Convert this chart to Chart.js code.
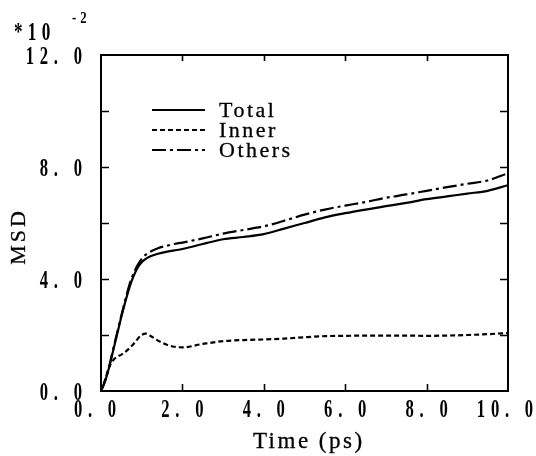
<!DOCTYPE html>
<html>
<head>
<meta charset="utf-8">
<script src="https://cdn.jsdelivr.net/npm/chart.js@4/dist/chart.umd.min.js"></script>
<style>
  html, body { margin: 0; padding: 0; background: #ffffff; }
  #wrap { width: 536px; height: 456px; }
</style>
</head>
<body>
<div id="wrap"><canvas id="msdChart" width="536" height="456"></canvas></div>
<script>
// Time axis (ps)
const timePs = [0, 0.1, 0.2, 0.3, 0.4, 0.5, 0.6, 0.7, 0.8, 0.9, 1.0, 1.1, 1.2, 1.4, 1.6, 1.8,
                2.0, 2.5, 3.0, 3.5, 4.0, 4.5, 5.0, 5.5, 6.0, 6.5, 7.0, 7.5, 8.0, 8.5, 9.0, 9.5, 10.0];
// Mean square displacement, in units of 10^-2
const msdTotal  = [0, 0.35, 0.85, 1.45, 2.05, 2.65, 3.2, 3.7, 4.1, 4.4, 4.6, 4.72, 4.8, 4.9, 4.97, 5.02,
                   5.07, 5.25, 5.42, 5.5, 5.6, 5.8, 6.0, 6.2, 6.35, 6.48, 6.6, 6.72, 6.85, 6.95, 7.05, 7.15, 7.35];
const msdInner  = [0, 0.4, 0.85, 1.1, 1.22, 1.3, 1.4, 1.53, 1.68, 1.86, 2.0, 2.05, 1.98, 1.8, 1.66, 1.58,
                   1.56, 1.68, 1.78, 1.82, 1.84, 1.87, 1.92, 1.96, 1.97, 1.98, 1.98, 1.98, 1.97, 1.98, 2.0, 2.03, 2.07];
const msdOthers = [0, 0.35, 0.87, 1.5, 2.1, 2.7, 3.27, 3.8, 4.2, 4.5, 4.72, 4.87, 4.97, 5.1, 5.18, 5.25,
                   5.3, 5.45, 5.62, 5.75, 5.88, 6.08, 6.3, 6.48, 6.62, 6.75, 6.9, 7.02, 7.15, 7.28, 7.4, 7.52, 7.78];

const seriesNames = ['Total', 'Inner', 'Others'];
const xTickValues = [0, 2, 4, 6, 8, 10];
const xTickLabels = ['0. 0', '2. 0', '4. 0', '6. 0', '8. 0', '10. 0'];
const yTickValues = [0, 4, 8, 12];
const yTickLabels = ['0. 0', '4. 0', '8. 0', '12. 0'];
const yMarkValues = [2, 4, 6, 8, 10];
const xMarkValues = [2, 4, 6, 8];
const axisTitleX = 'Time (ps)';
const axisTitleY = 'MSD';
const scaleNote = '*10';
const scaleExp = '-2';

const toPoints = (ys) => timePs.map((t, i) => ({ x: t, y: ys[i] }));

const SERIF = '"Liberation Serif", "DejaVu Serif", serif';

// Draw text squeezed horizontally, like a condensed plotter font.
function drawCondensed(ctx, text, x, y, opt) {
  const size = opt.size, sx = opt.sx || 1, spacing = opt.spacing || 0;
  ctx.save();
  ctx.font = (opt.weight || 'normal') + ' ' + size + 'px ' + SERIF;
  ctx.letterSpacing = spacing + 'px';
  ctx.textAlign = 'left';
  ctx.textBaseline = 'alphabetic';
  const w = (ctx.measureText(text).width - spacing) * sx;
  let x0 = x;
  if (opt.align === 'right') x0 = x - w;
  else if (opt.align === 'center') x0 = x - w / 2;
  ctx.translate(x0, y);
  ctx.scale(sx, 1);
  ctx.fillStyle = '#000';
  ctx.fillText(text, 0, 0);
  if (opt.heavy) {
    ctx.strokeStyle = '#000';
    ctx.lineWidth = opt.heavy;
    ctx.strokeText(text, 0, 0);
  }
  ctx.restore();
}

const framePlugin = {
  id: 'framePlugin',
  afterDatasetsDraw(chart) {
    const { ctx, chartArea: a, scales } = chart;
    const xs = scales.x, ys = scales.y;
    ctx.save();
    ctx.strokeStyle = '#000';
    ctx.lineWidth = 2;
    ctx.strokeRect(a.left, a.top, a.right - a.left, a.bottom - a.top);

    // inward tick marks on all four sides
    ctx.lineWidth = 1.6;
    ctx.beginPath();
    yMarkValues.forEach(v => {
      const py = Math.round(ys.getPixelForValue(v)) + 0.5;
      ctx.moveTo(a.left, py); ctx.lineTo(a.left + 8, py);
      ctx.moveTo(a.right, py); ctx.lineTo(a.right - 8, py);
    });
    xMarkValues.forEach(v => {
      const px = Math.round(xs.getPixelForValue(v)) + 0.5;
      ctx.moveTo(px, a.bottom); ctx.lineTo(px, a.bottom - 7);
      ctx.moveTo(px, a.top); ctx.lineTo(px, a.top + 6);
    });
    ctx.stroke();
    ctx.restore();

    // tick labels
    const tickFont = { size: 26, sx: 0.64, spacing: 9, weight: 'bold' };
    yTickValues.forEach((v, i) => {
      const py = ys.getPixelForValue(v);
      drawCondensed(ctx, yTickLabels[i], a.left - 19, py + 9, Object.assign({ align: 'right' }, tickFont));
    });
    const lastX = xTickValues.length - 1;
    xTickValues.forEach((v, i) => {
      const shift = i === 0 ? -6 : (i === lastX ? -3 : 0);
      const px = xs.getPixelForValue(v) + shift;
      drawCondensed(ctx, xTickLabels[i], px, a.bottom + 26, Object.assign({ align: 'center' }, tickFont));
    });

    // axis titles
    drawCondensed(ctx, axisTitleX, (a.left + a.right) / 2 + 3, 448, { size: 23, sx: 1, spacing: 2.5, align: 'center', heavy: 0.3 });
    ctx.save();
    ctx.translate(25, (a.top + a.bottom) / 2 + 15);
    ctx.rotate(-Math.PI / 2);
    drawCondensed(ctx, axisTitleY, 0, 0, { size: 22, sx: 1, spacing: 3, align: 'center', heavy: 0.3 });
    ctx.restore();

    // power-of-ten multiplier
    drawCondensed(ctx, scaleNote, 14, 40, { size: 26, sx: 0.66, spacing: 8, weight: 'bold' });
    drawCondensed(ctx, scaleExp, 72, 23, { size: 16, sx: 0.8, spacing: 5, weight: 'bold' });

    // legend
    const lx0 = 152, lx1 = 205, tx = 219;
    const rows = [110, 130, 150];
    chart.data.datasets.forEach((ds, i) => {
      const y = rows[i];
      ctx.save();
      ctx.strokeStyle = '#000';
      ctx.lineWidth = ds.borderWidth;
      ctx.setLineDash(ds.borderDash || []);
      ctx.beginPath();
      ctx.moveTo(lx0, y); ctx.lineTo(lx1, y);
      ctx.stroke();
      ctx.restore();
      drawCondensed(ctx, ds.label, tx, y + 7, { size: 22, sx: 1, spacing: 2.5, heavy: 0.3 });
    });
  }
};

new Chart(document.getElementById('msdChart'), {
  type: 'line',
  data: {
    datasets: [
      { label: seriesNames[0], data: toPoints(msdTotal),  borderColor: '#000', borderWidth: 2.2, borderDash: [] },
      { label: seriesNames[1], data: toPoints(msdInner),  borderColor: '#000', borderWidth: 2.2, borderDash: [5, 3] },
      { label: seriesNames[2], data: toPoints(msdOthers), borderColor: '#000', borderWidth: 2.2, borderDash: [14, 4, 3, 4] }
    ]
  },
  options: {
    responsive: false,
    animation: false,
    devicePixelRatio: 1,
    elements: {
      point: { radius: 0 },
      line: { cubicInterpolationMode: 'monotone', fill: false }
    },
    layout: { padding: { left: 101, right: 28, top: 55, bottom: 65 } },
    scales: {
      x: { type: 'linear', min: 0, max: 10, display: false },
      y: { type: 'linear', min: 0, max: 12, display: false }
    },
    plugins: {
      legend: { display: false },
      tooltip: { enabled: false },
      title: { display: false }
    }
  },
  plugins: [framePlugin]
});
</script>
</body>
</html>
